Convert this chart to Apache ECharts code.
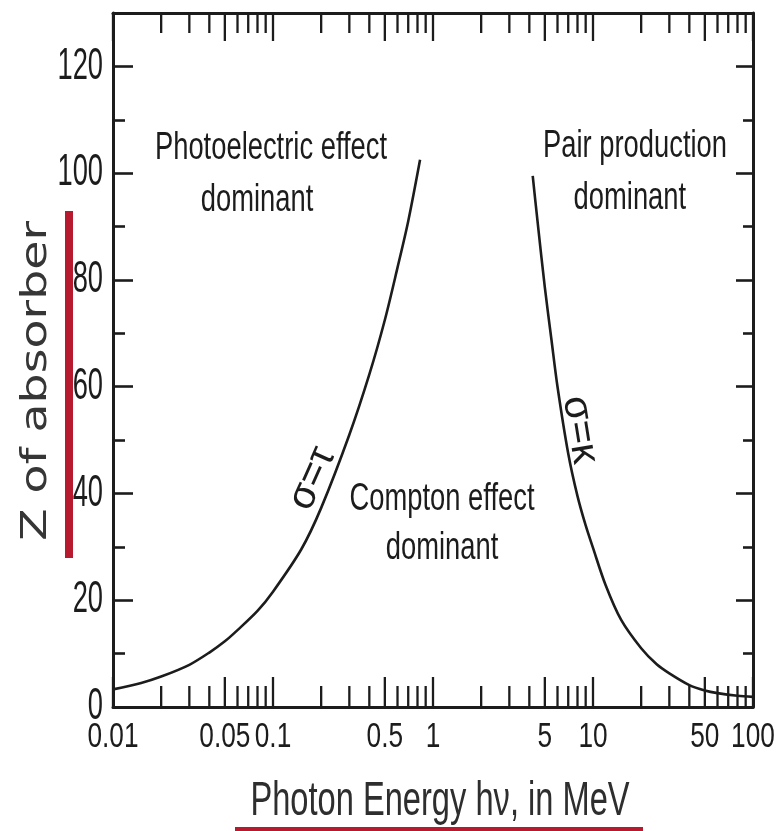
<!DOCTYPE html>
<html>
<head>
<meta charset="utf-8">
<script src="https://cdn.jsdelivr.net/npm/echarts@6/dist/echarts.min.js"></script>
<style>
  html, body { margin: 0; padding: 0; background: #ffffff; }
  #chart { width: 780px; height: 831px; }
</style>
</head>
<body>
<div id="chart"></div>
<script>
// ---------- data ----------
// x axis (photon energy, MeV, log scale)
const xLabelValues = [0.01, 0.05, 0.1, 0.5, 1, 5, 10, 50, 100];
const xLabelText = ['0.01', '0.05', '0.1', '0.5', '1', '5', '10', '50', '100'];
const xTickValues = [
  0.01, 0.02, 0.03, 0.04, 0.05, 0.06, 0.07, 0.08, 0.09,
  0.1, 0.2, 0.3, 0.4, 0.5, 0.6, 0.7, 0.8, 0.9,
  1, 2, 3, 4, 5, 6, 7, 8, 9,
  10, 20, 30, 40, 50, 60, 70, 80, 90, 100
];
// y axis (Z of absorber)
const yLabelValues = [0, 20, 40, 60, 80, 100, 120];
const yLabelText = ['0', '20', '40', '60', '80', '100', '120'];

// curve sigma = tau (photoelectric / Compton boundary)
const photoEnergy = [0.01, 0.015, 0.02, 0.03, 0.04, 0.05, 0.06, 0.08, 0.1, 0.15, 0.2, 0.3, 0.4, 0.5, 0.6, 0.7, 0.83];
const photoZ      = [3.3, 4.5, 5.7, 7.9, 10.2, 12.3, 14.4, 18.0, 21.6, 29.5, 37.3, 51.0, 62.3, 72.5, 82.3, 91.0, 102.5];

// curve sigma = kappa (Compton / pair production boundary)
const pairEnergy = [4.2, 4.5, 5, 5.5, 6, 7, 8, 9, 10, 12, 15, 20, 25, 30, 40, 50, 60, 80, 100];
const pairZ      = [99.5, 91.0, 78.6, 68.8, 60.0, 47.5, 39.5, 34.0, 29.8, 22.8, 16.3, 11.0, 8.0, 6.3, 4.1, 3.1, 2.6, 2.1, 1.9];

// region annotations (anchored in data space)
const noteText   = ['Photoelectric effect', 'dominant', 'Pair production', 'dominant', 'Compton effect', 'dominant', 'σ=τ', 'σ=κ'];
const noteEnergy = [0.0972, 0.0794, 18.3, 17.0, 1.138, 1.138, 0.1754, 8.29];
const noteZ      = [104.7, 94.9, 104.9, 95.3, 38.8, 29.6, 42.8, 51.9];

// ---------- styling ----------
const INK = '#1c1c1c';
const RED = '#b71a2e';
const Y_MIN = 0, Y_MAX = 130;
const SANS = '"Liberation Sans", Arial, sans-serif';

const noteStyle = [
  { size: 38, sx: 0.72, rot: 0 },
  { size: 38, sx: 0.72, rot: 0 },
  { size: 38, sx: 0.72, rot: 0 },
  { size: 38, sx: 0.72, rot: 0 },
  { size: 38, sx: 0.72, rot: 0 },
  { size: 38, sx: 0.72, rot: 0 },
  { size: 40, sx: 1.0, rot: 66 },
  { size: 40, sx: 1.0, rot: -81 }
];

const chart = echarts.init(document.getElementById('chart'), null, { renderer: 'canvas' });

const xAxisCommon = {
  type: 'log',
  logBase: 10,
  min: 0.01,
  max: 100,
  axisLine: { show: true, onZero: false, lineStyle: { color: INK, width: 3 } },
  axisTick: { show: false },
  minorTick: { show: false },
  axisLabel: { show: false },
  splitLine: { show: false },
  minorSplitLine: { show: false }
};

const yAxisCommon = {
  type: 'value',
  min: Y_MIN,
  max: Y_MAX,
  interval: 20,
  axisLine: { show: true, onZero: false, lineStyle: { color: INK, width: 3 } },
  axisLabel: { show: false },
  splitLine: { show: false }
};

const option = {
  animation: false,
  backgroundColor: '#ffffff',
  grid: { left: 113, right: 27, top: 13, bottom: 124, outerBoundsMode: 'none' },
  xAxis: [
    Object.assign({}, xAxisCommon, { position: 'bottom' }),
    Object.assign({}, xAxisCommon, { position: 'top' })
  ],
  yAxis: [
    Object.assign({}, yAxisCommon, {
      position: 'left',
      axisTick: { show: true, inside: true, length: 20, lineStyle: { color: INK, width: 2.6 } },
      minorTick: { show: true, splitNumber: 2, length: 12, lineStyle: { color: INK, width: 2.6 } }
    }),
    Object.assign({}, yAxisCommon, {
      position: 'right',
      axisTick: { show: true, inside: true, length: 17, lineStyle: { color: INK, width: 2.6 } },
      minorTick: { show: true, splitNumber: 2, length: 10, lineStyle: { color: INK, width: 2.6 } }
    })
  ],
  series: [
    {
      name: 'σ=τ',
      type: 'line',
      xAxisIndex: 0, yAxisIndex: 0,
      data: photoEnergy.map((e, i) => [e, photoZ[i]]),
      showSymbol: false,
      smooth: 0.3,
      lineStyle: { color: INK, width: 2.6 },
      silent: true,
      z: 5
    },
    {
      name: 'σ=κ',
      type: 'line',
      xAxisIndex: 0, yAxisIndex: 0,
      data: pairEnergy.map((e, i) => [e, pairZ[i]]),
      showSymbol: false,
      smooth: 0.3,
      lineStyle: { color: INK, width: 2.6 },
      silent: true,
      z: 5
    },
    {
      // x-axis tick marks (bottom and top frame), placed through the log scale
      name: 'xticks',
      type: 'custom',
      xAxisIndex: 0, yAxisIndex: 0,
      data: xTickValues.map(v => [v, Y_MIN]),
      silent: true,
      z: 4,
      renderItem: function (params, api) {
        const v = api.value(0);
        const long = xLabelValues.indexOf(v) >= 0;
        const b = api.coord([v, Y_MIN]);
        const t = api.coord([v, Y_MAX]);
        const lb = long ? 30 : 21;
        const lt = long ? 28 : 20;
        return {
          type: 'group',
          children: [
            { type: 'line', shape: { x1: b[0], y1: b[1], x2: b[0], y2: b[1] - lb }, style: { stroke: INK, lineWidth: 2.3 } },
            { type: 'line', shape: { x1: t[0], y1: t[1], x2: t[0], y2: t[1] + lt }, style: { stroke: INK, lineWidth: 2.3 } }
          ]
        };
      }
    },
    {
      // x-axis tick labels (log axis labelled at 1-5-10 steps)
      name: 'xlabels',
      type: 'custom',
      xAxisIndex: 0, yAxisIndex: 0,
      data: xLabelValues.map(v => [v, Y_MIN]),
      silent: true,
      clip: false,
      z: 4,
      renderItem: function (params, api) {
        const p = api.coord([api.value(0), Y_MIN]);
        return {
          type: 'text',
          x: p[0],
          y: p[1] + 30,
          scaleX: 0.75,
          style: {
            text: xLabelText[params.dataIndex],
            fill: INK,
            font: '35px ' + SANS,
            align: 'center',
            verticalAlign: 'middle'
          }
        };
      }
    },
    {
      // y-axis tick labels (left frame)
      name: 'ylabels',
      type: 'custom',
      xAxisIndex: 0, yAxisIndex: 0,
      data: yLabelValues.map(v => [0.01, v]),
      silent: true,
      clip: false,
      z: 4,
      renderItem: function (params, api) {
        const p = api.coord([0.01, api.value(1)]);
        return {
          type: 'text',
          x: p[0] - 10,
          y: p[1],
          scaleX: 0.62,
          style: {
            text: yLabelText[params.dataIndex],
            fill: INK,
            font: '44px ' + SANS,
            align: 'right',
            verticalAlign: 'middle'
          }
        };
      }
    },
    {
      // region annotations
      name: 'notes',
      type: 'custom',
      xAxisIndex: 0, yAxisIndex: 0,
      data: noteEnergy.map((e, i) => [e, noteZ[i]]),
      silent: true,
      z: 6,
      renderItem: function (params, api) {
        const i = params.dataIndex;
        const p = api.coord([api.value(0), api.value(1)]);
        const s = noteStyle[i];
        return {
          type: 'text',
          x: p[0],
          y: p[1],
          rotation: s.rot * Math.PI / 180,
          scaleX: s.sx,
          style: {
            text: noteText[i],
            fill: INK,
            font: s.size + 'px ' + SANS,
            align: 'center',
            verticalAlign: 'middle'
          }
        };
      }
    }
  ],
  graphic: [
    {
      type: 'text',
      x: 440, y: 802,
      scaleX: 0.68,
      z: 50,
      style: {
        text: 'Photon Energy hν, in MeV',
        fill: '#2e2e2e',
        font: '48px ' + SANS,
        align: 'center',
        verticalAlign: 'middle'
      }
    },
    {
      type: 'text',
      x: 37, y: 381,
      rotation: Math.PI / 2,
      scaleX: 1.32,
      z: 50,
      style: {
        text: 'Z of absorber',
        fill: '#363636',
        font: '36px "DejaVu Sans", sans-serif',
        align: 'center',
        verticalAlign: 'middle'
      }
    },
    {
      type: 'rect',
      z: 100,
      shape: { x: 65, y: 211, width: 8, height: 347 },
      style: { fill: RED }
    },
    {
      type: 'rect',
      z: 100,
      shape: { x: 235, y: 827, width: 408, height: 5 },
      style: { fill: RED }
    }
  ]
};

chart.setOption(option);
</script>
</body>
</html>
